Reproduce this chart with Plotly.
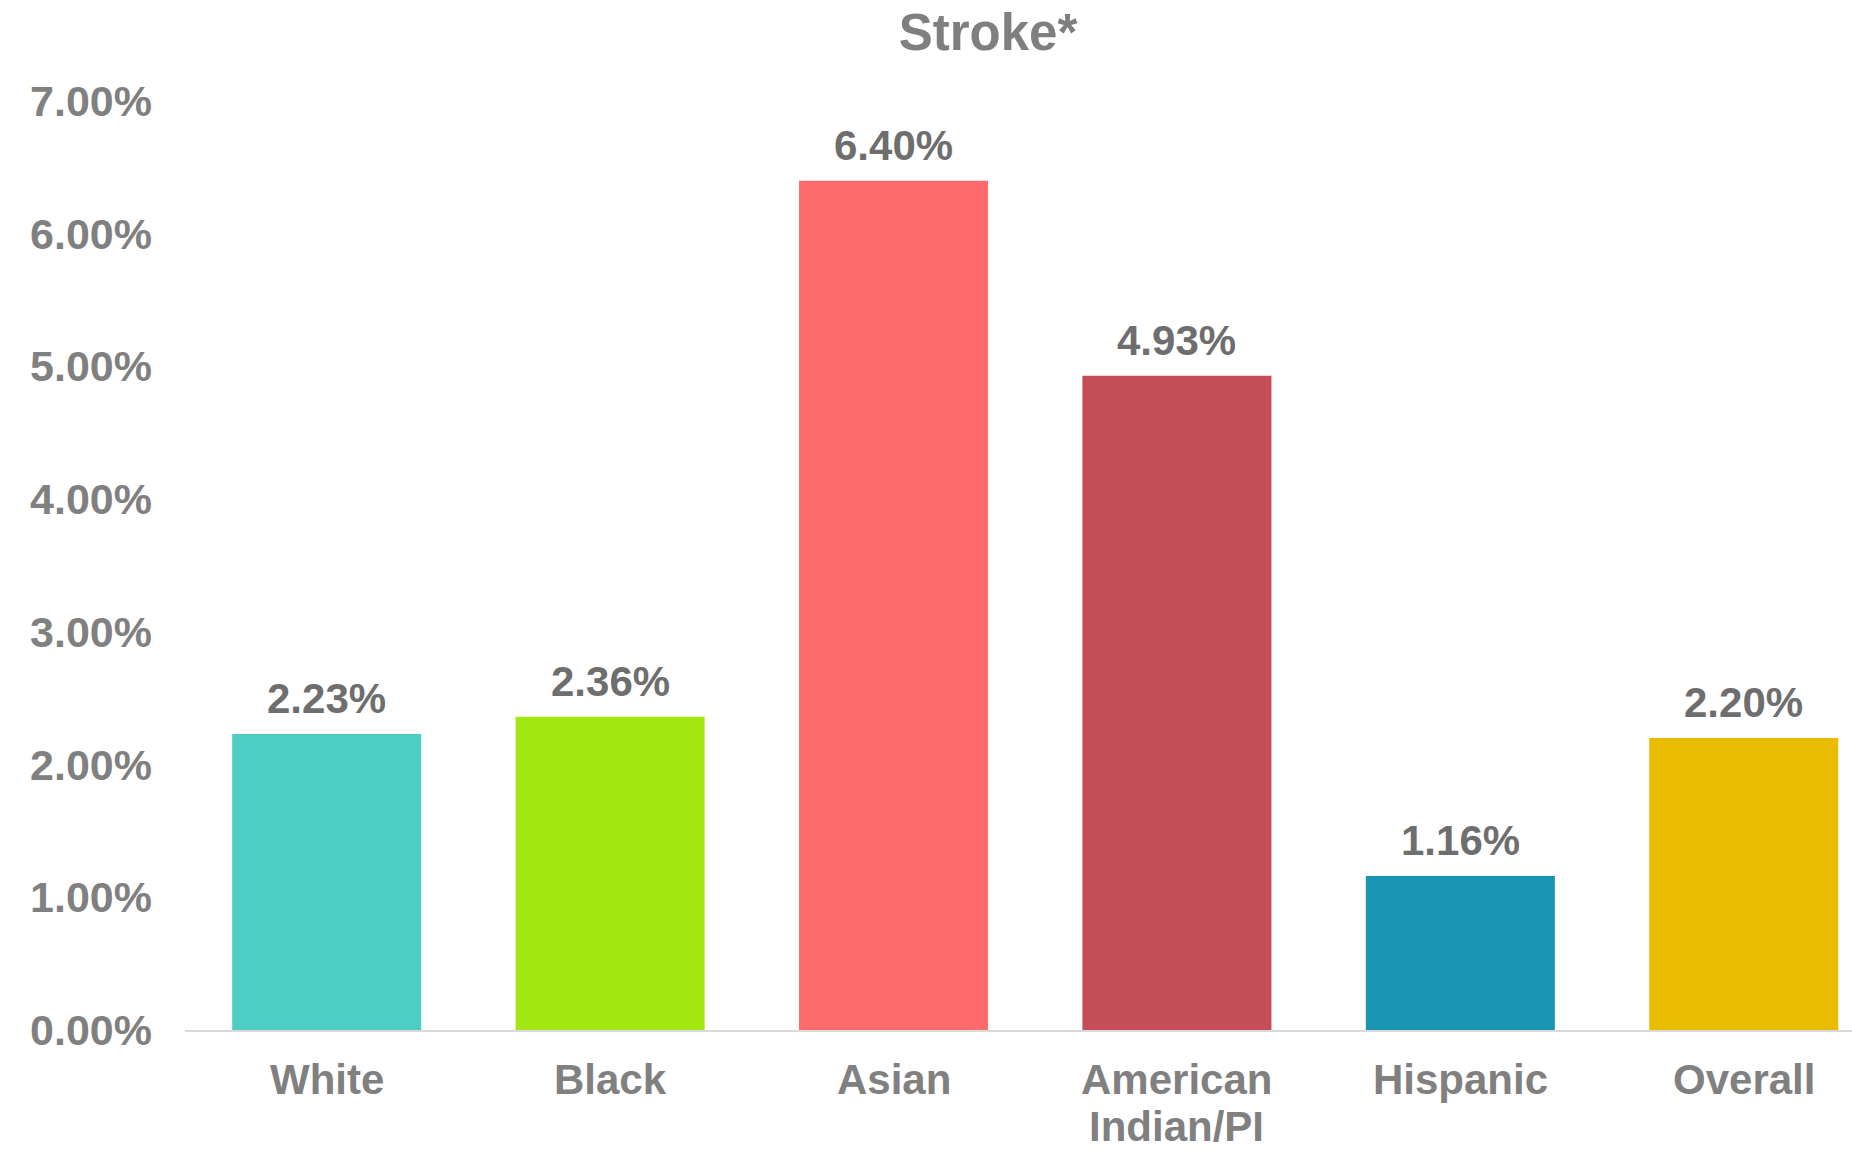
import plotly.graph_objects as go

categories = ["White", "Black", "Asian", "American<br>Indian/PI", "Hispanic", "Overall"]
values = [2.23, 2.36, 6.40, 4.93, 1.16, 2.20]
colors = ["#4ECDC4", "#A3E712", "#FF6B6B", "#C44D58", "#1995B3", "#E9BC00"]
tick_vals = [0, 1, 2, 3, 4, 5, 6, 7]
tick_text = ["%.2f%%" % v for v in tick_vals]

FONT = "Liberation Sans, Arial, sans-serif"

fig = go.Figure()
fig.add_trace(go.Bar(
    x=categories, y=values, marker=dict(color=colors, line=dict(width=0)),
    width=0.667, hoverinfo="skip",
))

# value labels above bars
for c, v in zip(categories, values):
    fig.add_annotation(
        x=c, y=v, text="<b>%.2f%%</b>" % v, showarrow=False,
        yanchor="bottom", yshift=10,
        font=dict(family=FONT, size=42, color="#6E6E6E"),
    )

# category labels (line by line for tighter line spacing)
for c in categories:
    for j, line in enumerate(c.split("<br>")):
        fig.add_annotation(
            x=c, y=0, text="<b>%s</b>" % line, showarrow=False,
            yanchor="top", yshift=-24 - 47 * j,
            font=dict(family=FONT, size=42, color="#808080"),
        )

fig.update_layout(
    template="none",
    width=1852, height=1150,
    margin=dict(l=185, r=0, t=101, b=120, autoexpand=False),
    paper_bgcolor="white", plot_bgcolor="white",
    showlegend=False,
    title=dict(
        text="<b>Stroke*</b>", x=988 / 1852, xref="container", xanchor="center",
        y=1 - 32 / 1150, yref="container", yanchor="middle",
        font=dict(family=FONT, size=51, color="#7F7F7F"),
    ),
    xaxis=dict(
        range=[-0.5, 5.382], showgrid=False, zeroline=False, automargin=False,
        showline=True, linecolor="#D9D9D9", linewidth=2,
        ticks="", showticklabels=False,
    ),
    yaxis=dict(
        range=[0, 7], tickvals=tick_vals, ticktext=["<b>%s</b>" % t for t in tick_text],
        showgrid=False, zeroline=False, showline=False, ticks="", automargin=False,
        tickfont=dict(family=FONT, size=43, color="#808080"),
        ticklabelstandoff=32,
    ),
)

fig.write_html("out.html", config={"displayModeBar": False},
               post_script="document.body.style.margin='0';")
